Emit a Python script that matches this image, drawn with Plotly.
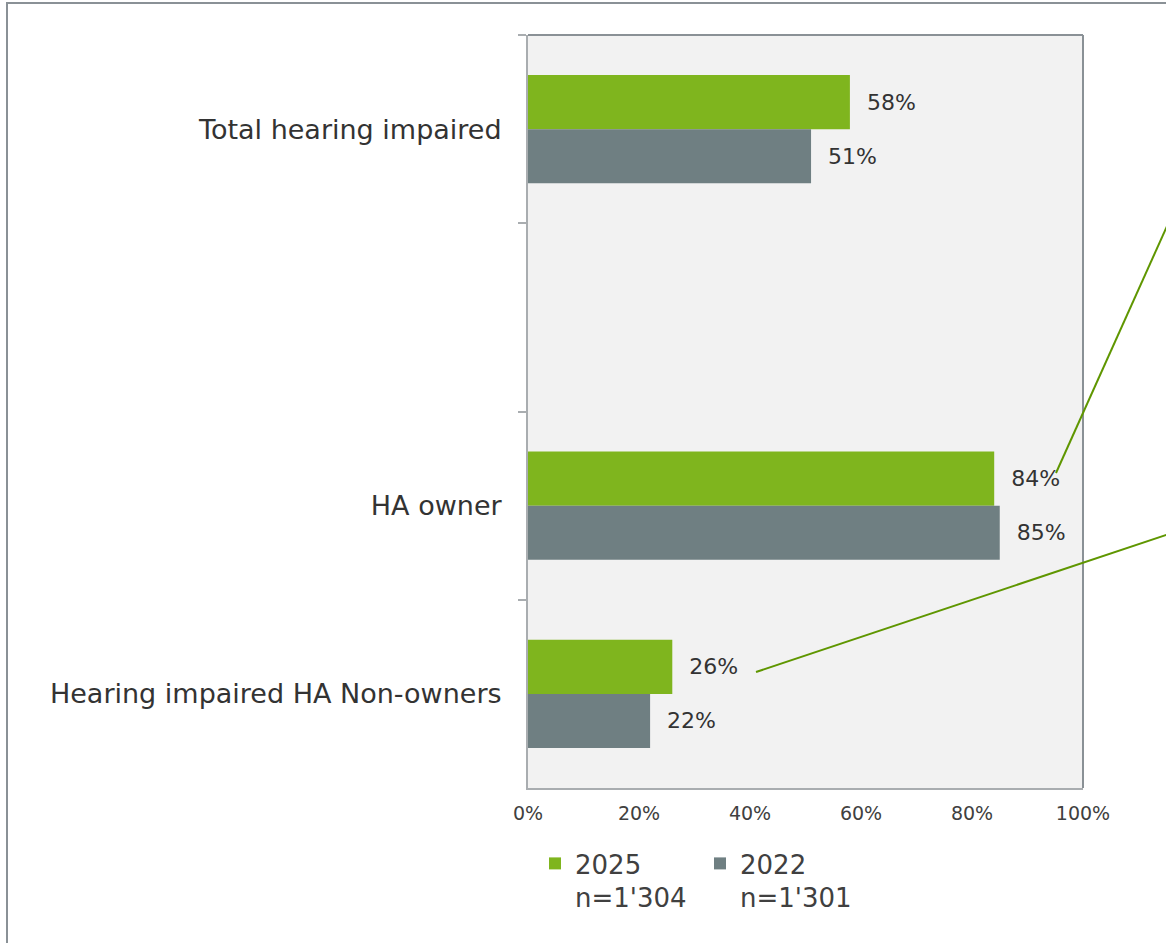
import plotly.graph_objects as go

categories = ["Total hearing impaired", " ", "HA owner", "Hearing impaired HA Non-owners"]
series_names = ["2025<br>n=1'304", "2022<br>n=1'301"]
values_2025 = [58, None, 84, 26]
values_2022 = [51, None, 85, 22]
x_tick_vals = [0, 20, 40, 60, 80, 100]
x_tick_text = ["0%", "20%", "40%", "60%", "80%", "100%"]

GREEN = "#7fb51e"
GREY = "#6f7f82"
TEXT = "#333333"
FONT = "DejaVu Sans"

W, H = 1166, 943
L, R, T, B = 528, 1166 - 1083, 35, 943 - 788
PW, PH = W - L - R, H - T - B


def px(xp):
    return (xp - L) / PW


def py(yp):
    return (H - B - yp) / PH


def labels(vals):
    return [None if v is None else f"\u00a0\u00a0{v}%" for v in vals]


fig = go.Figure()
for name, vals, col in [(series_names[0], values_2025, GREEN), (series_names[1], values_2022, GREY)]:
    fig.add_trace(go.Bar(
        y=categories, x=vals, name=name, orientation="h",
        marker=dict(color=col, line=dict(width=0)),
        text=labels(vals), textposition="outside", cliponaxis=False,
        constraintext="none",
        textfont=dict(family=FONT, size=22, color=TEXT),
        hoverinfo="skip",
    ))

shapes = [
    # outer frame
    dict(type="rect", xref="paper", yref="paper", x0=px(7), x1=px(1200), y0=py(1000), y1=py(3),
         line=dict(color="#8a9196", width=2), fillcolor="rgba(0,0,0,0)", layer="below"),
    # plot area top/right edges
    dict(type="line", xref="paper", yref="paper", x0=0, x1=1, y0=1, y1=1,
         line=dict(color="#8a9196", width=2)),
    dict(type="line", xref="paper", yref="paper", x0=1, x1=1, y0=0, y1=1,
         line=dict(color="#8a9196", width=2)),
    # callout lines
    dict(type="line", xref="paper", yref="paper", x0=px(1056), y0=py(473), x1=px(1172), y1=py(215),
         line=dict(color="#5f9600", width=2)),
    dict(type="line", xref="paper", yref="paper", x0=px(756), y0=py(672), x1=px(1172), y1=py(533),
         line=dict(color="#5f9600", width=2)),
]

fig.update_layout(
    width=W, height=H,
    margin=dict(l=L, r=R, t=T, b=B, pad=0),
    paper_bgcolor="white", plot_bgcolor="#f2f2f2",
    barmode="group", bargap=0.426, bargroupgap=0,
    font=dict(family=FONT, color=TEXT),
    showlegend=True,
    legend=dict(orientation="h", x=px(535), xanchor="left", y=py(840), yanchor="top",
                font=dict(family=FONT, size=26, color="#404040"),
                valign="top", traceorder="normal", entrywidth=120, entrywidthmode="pixels",
                bgcolor="rgba(0,0,0,0)", itemclick=False),
    shapes=shapes,
)
fig.update_xaxes(range=[0, 100], tickvals=x_tick_vals, ticktext=x_tick_text,
                 showgrid=False, zeroline=False, showline=True, linecolor="#a9adb0", linewidth=2,
                 ticks="", ticklabelstandoff=7,
                 tickfont=dict(family=FONT, size=19, color="#404040"), fixedrange=True)
fig.update_yaxes(type="category", categoryorder="array", categoryarray=categories,
                 autorange="reversed", showgrid=False, zeroline=False,
                 showline=True, linecolor="#a9adb0", linewidth=2,
                 ticks="outside", tickson="boundaries", ticklen=8, tickcolor="#a9adb0", tickwidth=2,
                 ticklabelstandoff=19,
                 tickfont=dict(family=FONT, size=27, color=TEXT), fixedrange=True)

fig.write_html("out.html", config={"displayModeBar": False},
               post_script="document.body.style.margin='0px';")
